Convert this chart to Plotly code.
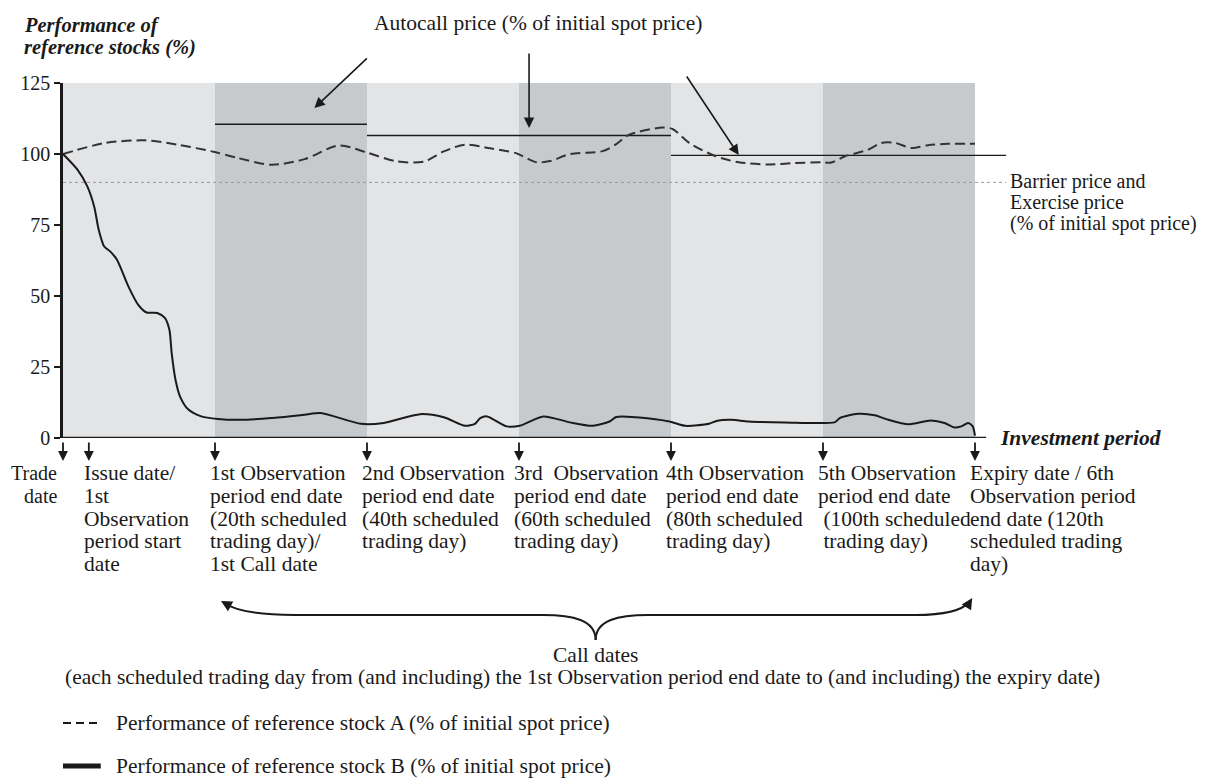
import plotly.graph_objects as go

# ---- data (trading day, % of initial spot) ----
days_a = [0, 5.6, 10.8, 15.1, 20.1, 23.0, 27.4, 31.8, 36.3, 39.9, 43.9, 47.5, 50.1,
          52.9, 56.2, 59.6, 62.3, 64.1, 66.7, 71.0, 72.7, 74.5, 78.9, 80.2, 82.4, 85.9,
          88.9, 92.9, 96.3, 99.8, 101.1, 102.9, 105.9, 107.7, 109.5, 111.6, 113.8, 116.4, 120]
stock_a = [100, 103.9, 104.8, 103.3, 100.6, 98.6, 96.2, 98.2, 103, 100.6, 97.4, 97.3, 100.9,
           103.3, 102, 100.3, 97.1, 97.5, 100, 101, 103.3, 106.8, 109.3, 108.8, 103.9, 99.2,
           97.1, 96.3, 96.8, 97.1, 97, 99.2, 101.5, 103.9, 103.9, 102.1, 103.1, 103.6, 103.6]

days_b = [0, 1.9, 3.2, 4.1, 4.7, 5.4, 6.2, 7.1, 8.6, 9.9, 11.0, 12.4, 13.4, 14.0, 14.3, 14.8,
          15.4, 16.5, 18.2, 20.4, 23.0, 27.4, 31.8, 33.9, 39.2, 42.2, 47.0, 50.1, 52.9, 54.2,
          54.9, 55.8, 58.4, 60.1, 63.2, 66.7, 69.7, 71.9, 72.8, 75.4, 79.8, 81.9, 85.0, 86.1,
          88.0, 90.2, 95.0, 101.6, 102.2, 104.6, 106.8, 108.6, 111.2, 114.2, 116.0, 117.3,
          118.2, 119.1, 119.7, 120.0]
stock_b = [100, 94.5, 88.6, 81.5, 73.3, 67.5, 65.7, 62.8, 53.4, 46.9, 44.2, 44.0, 42.3, 38.1,
           29.9, 20.5, 14.6, 10.0, 7.6, 6.7, 6.4, 7.0, 8.2, 8.8, 5.0, 5.3, 8.4, 7.3, 4.3, 5.0,
           7.0, 7.6, 4.1, 4.3, 7.6, 5.5, 4.3, 5.8, 7.4, 7.3, 5.8, 4.3, 5.0, 6.1,
           6.4, 5.8, 5.5, 5.6, 7.0, 8.5, 8.0, 6.4, 4.8, 6.2, 5.3, 3.7,
           4.1, 5.3, 4.1, 0.8]

period_bounds = [0, 20, 40, 60, 80, 100, 120]
autocall_start = [20, 40, 80]
autocall_end = [40, 80, 124.1]
autocall_level = [110.5, 106.5, 99.5]
barrier_level = 90
barrier_end = 124.1

date_days = [0, 3.4, 20, 40, 60, 80, 100, 120]
date_labels = [
    ["Trade", "date"],
    ["Issue date/", "1st", "Observation", "period start", "date"],
    ["1st Observation", "period end date", "(20th scheduled", "trading day)/", "1st Call date"],
    ["2nd Observation", "period end date", "(40th scheduled", "trading day)"],
    ["3rd\u00a0 Observation", "period end date", "(60th scheduled", "trading day)"],
    ["4th Observation", "period end date", "(80th scheduled", "trading day)"],
    ["5th Observation", "period end date", "\u00a0(100th scheduled", "\u00a0trading day)"],
    ["Expiry date / 6th", "Observation period", "end date (120th", "scheduled trading", "day)"],
]
y_ticks = [0, 25, 50, 75, 100, 125]

# ---- page geometry (screen pixels; the page body adds an 8px margin) ----
OFF = 8
L, T, PW, PH = 57, 83, 956, 355
W, H = 1218 - OFF, 778 - OFF
FONT = "Liberation Serif, Times New Roman, serif"
INK = "#1a1a1a"
SIZE = 21.5


def px(x):
    return (x - L) / PW


def py(y):
    return (T + PH - y) / PH


fig = go.Figure()

fig.add_trace(go.Scatter(x=[0, barrier_end], y=[barrier_level, barrier_level], mode="lines",
                         line=dict(color="#9a9a9a", width=1, dash="dot"), hoverinfo="skip"))
for x0, x1, lv in zip(autocall_start, autocall_end, autocall_level):
    fig.add_trace(go.Scatter(x=[x0, x1], y=[lv, lv], mode="lines",
                             line=dict(color=INK, width=1.4), hoverinfo="skip"))

fig.add_trace(go.Scatter(x=days_a, y=stock_a, mode="lines", name="Stock A",
                         line=dict(color="#333333", width=2, dash="10px,5px", shape="spline", smoothing=0.8)))
fig.add_trace(go.Scatter(x=days_b, y=stock_b, mode="lines", name="Stock B",
                         line=dict(color=INK, width=2, shape="spline", smoothing=0.7)))

shapes = []
for i in range(len(period_bounds) - 1):
    shapes.append(dict(type="rect", xref="x", yref="y", x0=period_bounds[i], x1=period_bounds[i + 1],
                       y0=0, y1=125, layer="below", line=dict(width=0),
                       fillcolor="#e3e4e6" if i % 2 == 0 else "#c7cacd"))
# x axis line
shapes.append(dict(type="line", xref="paper", yref="y", x0=0, x1=px(986), y0=0, y1=0,
                   line=dict(color=INK, width=2.5)))

annotations = []


def text(s, x, y, anchor="left", size=SIZE, bold_italic=False, xref="paper", xshift=0):
    if bold_italic:
        s = "<b><i>" + s + "</i></b>"
    annotations.append(dict(text=s, x=x, y=py(y), xref=xref, yref="paper", xanchor=anchor,
                            yanchor="middle", showarrow=False, xshift=xshift,
                            font=dict(family=FONT, size=size, color=INK)))


def arrow(tip_x, tip_y, tail_dx, tail_dy, width=1.6, size=1.3, xref="paper"):
    annotations.append(dict(text="", x=tip_x, y=py(tip_y), xref=xref, yref="paper",
                            ax=tail_dx, ay=tail_dy, showarrow=True, arrowhead=2,
                            arrowsize=size, arrowwidth=width, arrowcolor=INK))


# title / axis captions
text("Performance of", px(16), 25, size=20.5, bold_italic=True)
text("reference stocks (%)", px(16), 48, size=20.5, bold_italic=True)
text("Investment period", px(998), 438, size=21.5, bold_italic=True)

# autocall caption and arrows
text("Autocall price (% of initial spot price)", px(535), 23, anchor="center")
arrow(px(310), 108, 54, -51)
arrow(px(526), 128, 0, -76)
arrow(px(737), 155, -53, -80)

# barrier caption
for i, s in enumerate(["Barrier price and", "Exercise price", "(% of initial spot price)"]):
    text(s, px(1008), 181 + 21.2 * i, size=20)

# date arrows and labels
for d, lines in zip(date_days, date_labels):
    arrow(d, 461, 0, -20, width=1.8, size=1.1, xref="x")
    for i, s in enumerate(lines):
        if d == 0:
            text(s, d, 473 + 22.75 * i, anchor="right", size=20, xref="x", xshift=-4)
        else:
            text(s, d, 473 + 22.75 * i, anchor="left", xref="x", xshift=-7)

# call-dates brace
left_arm = "M {} {} C {} {} {} {} {} {} L {} {} C {} {} {} {} {} {}".format(
    px(593), py(640), px(593), py(620), px(570), py(615), px(540), py(615),
    px(290), py(615), px(245), py(615), px(228), py(609), px(219), py(603))
right_arm = "M {} {} C {} {} {} {} {} {} L {} {} C {} {} {} {} {} {}".format(
    px(593), py(640), px(593), py(620), px(616), py(615), px(646), py(615),
    px(915), py(615), px(950), py(615), px(963), py(609), px(969), py(602))
for p in (left_arm, right_arm):
    shapes.append(dict(type="path", xref="paper", yref="paper", path=p,
                       line=dict(color=INK, width=2)))
arrow(px(216), 601, 9, 5, width=2, size=1.1)
arrow(px(972), 598, -5, 8, width=2, size=1.1)

text("Call dates", px(593), 655, anchor="center")
text("(each scheduled trading day from (and including) the 1st Observation period end date "
     "to (and including) the expiry date)", px(580), 677, anchor="center")

# legend
shapes.append(dict(type="line", xref="paper", yref="paper", x0=px(57), x1=px(95),
                    y0=py(723), y1=py(723), line=dict(color=INK, width=2, dash="8px,5px")))
shapes.append(dict(type="line", xref="paper", yref="paper", x0=px(57), x1=px(95),
                    y0=py(766), y1=py(766), line=dict(color=INK, width=5)))
text("Performance of reference stock A (% of initial spot price)", px(108), 723)
text("Performance of reference stock B (% of initial spot price)", px(108), 766)

fig.update_layout(
    width=W, height=H,
    margin=dict(l=L - OFF, r=W - (L - OFF) - PW, t=T - OFF, b=H - (T - OFF) - PH),
    paper_bgcolor="white", plot_bgcolor="white",
    showlegend=False,
    shapes=shapes, annotations=annotations,
    font=dict(family=FONT, size=SIZE, color=INK),
    xaxis=dict(range=[0, 125], showgrid=False, zeroline=False, showline=False,
               showticklabels=False, ticks=""),
    yaxis=dict(range=[0, 125], tickvals=y_ticks, showgrid=False, zeroline=False,
               showline=True, linewidth=2.5, linecolor=INK, ticks="outside", ticklen=6,
               tickwidth=2, tickcolor=INK, tickfont=dict(family=FONT, size=20, color=INK)),
)

fig.write_html("out.html")
